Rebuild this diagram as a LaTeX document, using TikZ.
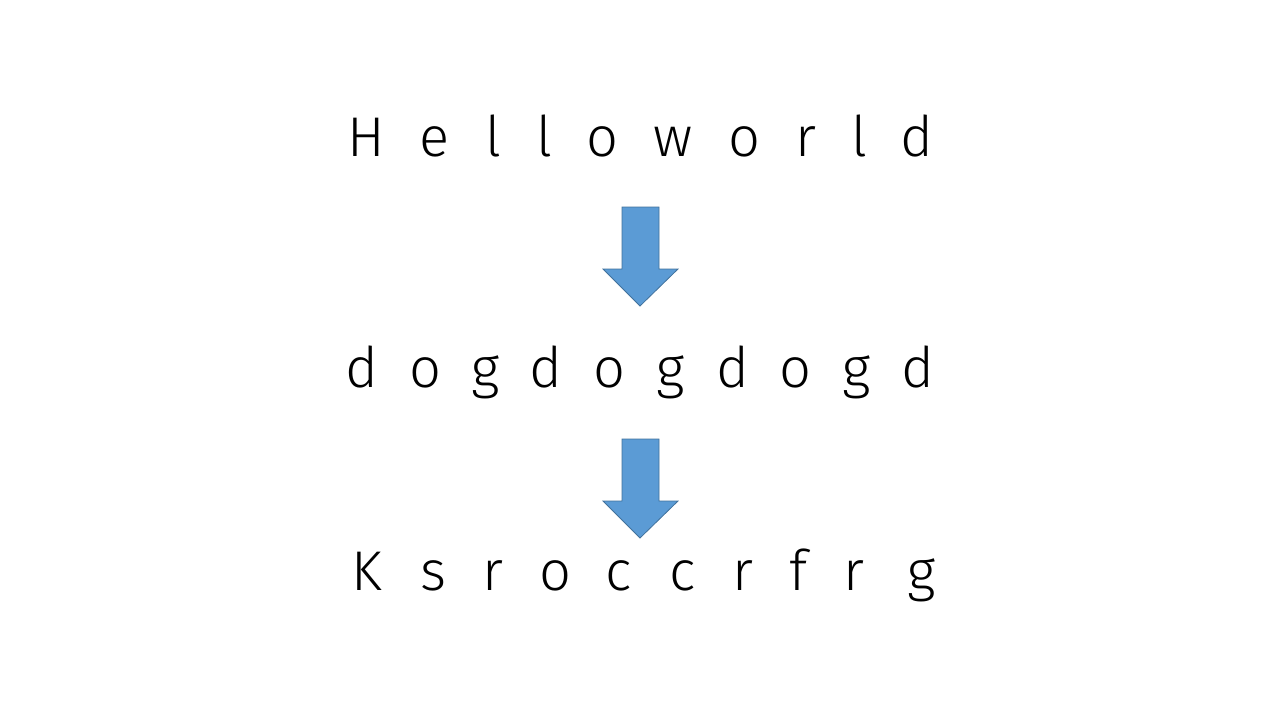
\documentclass[tikz,border=0pt]{standalone}
\usepackage{fontspec}
\setmainfont{Fira Sans Light}
\definecolor{arrowfill}{HTML}{5B9BD5}
\definecolor{arrowline}{HTML}{41719C}
\tikzset{
  letter/.style={anchor=base, inner sep=0pt, font=\fontsize{28}{34}\selectfont},
  blockarrow/.style={fill=arrowfill, draw=arrowline, line width=0.4pt}
}
\begin{document}
\begin{tikzpicture}[x=0.5pt, y=-0.5pt]
    \useasboundingbox (0,0) rectangle (1280,720);

    % --- 1. Texto original ---
    \foreach \x/\c [count=\i] in {366/H, 435/e, 493/l, 544/l, 602/o, 673/w, 744/o, 806/r, 859/l, 917/d}
        \node[letter] (plain\i) at (\x,156) {\c};

    % Flecha 1
    \coordinate (tipA) at (640,306);
    \draw[blockarrow] (622,207) -- (659,207) -- (659,269) -- (678,269) -- (tipA) -- (603,269) -- (622,269) -- cycle;

    % --- 2. Clave repetida ---
    \foreach \x/\c [count=\i] in {362/d, 425/o, 486/g, 546/d, 609/o, 671/g, 733/d, 795/o, 857/g, 918/d}
        \node[letter] (key\i) at (\x,387) {\c};

    % Flecha 2
    \coordinate (tipB) at (640,538);
    \draw[blockarrow] (622,439) -- (659,439) -- (659,501) -- (678,501) -- (tipB) -- (603,501) -- (622,501) -- cycle;

    % --- 3. Texto cifrado ---
    \foreach \x/\c [count=\i] in {367/K, 433/s, 493/r, 555/o, 619/c, 683/c, 743/r, 798/f, 854/r, 922/g}
        \node[letter] (cipher\i) at (\x,590) {\c};
\end{tikzpicture}
\end{document}
